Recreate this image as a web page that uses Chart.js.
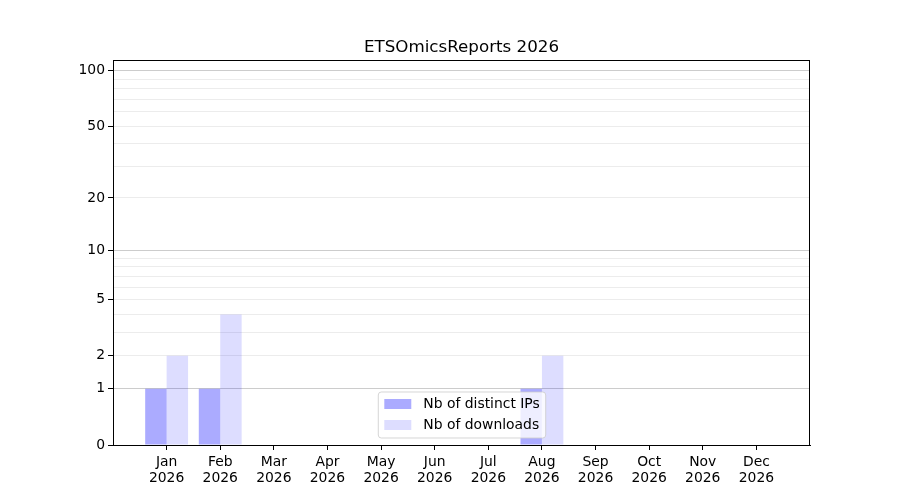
<!DOCTYPE html>
<html>
<head>
<meta charset="utf-8">
<script src="https://cdn.jsdelivr.net/npm/chart.js@4"></script>
<style>
  body { margin: 0; background: #fff; }
</style>
</head>
<body>
<canvas id="chart" width="900" height="500"></canvas>
<script>
// Data
const months = ['Jan', 'Feb', 'Mar', 'Apr', 'May', 'Jun', 'Jul', 'Aug', 'Sep', 'Oct', 'Nov', 'Dec'];
const year = '2026';
const distinctIPs = [1, 1, 0, 0, 0, 0, 0, 1, 0, 0, 0, 0];
const downloads = [2, 4, 0, 0, 0, 0, 0, 2, 0, 0, 0, 0];
const labelledTicks = [0, 1, 2, 5, 10, 20, 50, 100];
const majorGrid = [1, 10, 100];
const minorGrid = [2, 3, 4, 5, 6, 7, 8, 9, 20, 30, 40, 50, 60, 70, 80, 90];
const yMaxValue = 114; // top of axes in data units

// log(1 + x) transform used by the y axis
function tf(v) { return Math.log10(1 + v); }

// pad the category axis with an empty slot each side (matplotlib-like margins)
const labels = [''].concat(months.map(m => [m, year]), ['']);
const pad = arr => [null].concat(arr.map(v => tf(v)), [null]);

const FONT = 'DejaVu Sans';
const TICK_SIZE = 13.9;

const gridVals = [0].concat(majorGrid, minorGrid).sort((a, b) => a - b);

// Frame and in-axes legend
const framePlugin = {
  id: 'frame',
  afterDraw(chart) {
    const { ctx, chartArea: a } = chart;
    ctx.save();
    ctx.strokeStyle = '#000';
    ctx.lineWidth = 1;
    ctx.strokeRect(Math.round(a.left) + 0.5, Math.round(a.top) + 0.5,
      Math.round(a.right - a.left) - 1, Math.round(a.bottom - a.top));

    // legend
    const items = chart.data.datasets;
    ctx.font = TICK_SIZE + 'px "' + FONT + '"';
    let tw = 0;
    items.forEach(d => { tw = Math.max(tw, ctx.measureText(d.label).width); });
    const boxW = 45 + tw + 6;
    const boxH = 46;
    const cx = (a.left + a.right) / 2;
    const x0 = cx - boxW / 2 + 0.5;
    const y0 = a.bottom - 7 - boxH;
    ctx.fillStyle = 'rgba(255,255,255,0.8)';
    ctx.strokeStyle = 'rgba(204,204,204,0.8)';
    ctx.beginPath();
    ctx.roundRect(x0, y0, boxW, boxH, 3);
    ctx.fill();
    ctx.stroke();
    items.forEach((d, i) => {
      const ry = y0 + 12 + i * 21;
      ctx.fillStyle = d.backgroundColor;
      ctx.fillRect(x0 + 6, ry - 5, 27, 10);
      ctx.fillStyle = '#000';
      ctx.textBaseline = 'middle';
      ctx.textAlign = 'left';
      ctx.fillText(d.label, x0 + 45, ry);
    });
    ctx.restore();
  }
};

new Chart(document.getElementById('chart'), {
  type: 'bar',
  data: {
    labels: labels,
    datasets: [
      {
        label: 'Nb of distinct IPs',
        data: pad(distinctIPs),
        backgroundColor: 'rgba(0,0,255,0.33)',
        borderWidth: 0
      },
      {
        label: 'Nb of downloads',
        data: pad(downloads),
        backgroundColor: 'rgba(0,0,255,0.135)',
        borderWidth: 0
      }
    ]
  },
  options: {
    responsive: false,
    animation: false,
    devicePixelRatio: 1,
    // left padding + empty right axis keep the title centred over the axes
    layout: { padding: { left: 23, right: 0, top: 0, bottom: 0 } },
    datasets: {
      bar: { categoryPercentage: 0.8, barPercentage: 1.0 }
    },
    plugins: {
      legend: { display: false },
      tooltip: { enabled: false },
      title: {
        display: true,
        text: 'ETSOmicsReports 2026',
        color: '#000',
        font: { family: FONT, size: 16.7, weight: 'normal' },
        padding: { top: 38, bottom: 2 }
      }
    },
    scales: {
      x: {
        offset: false,
        grid: {
          offset: false,
          drawOnChartArea: false,
          drawTicks: true,
          tickLength: 5,
          tickWidth: 1,
          tickColor: ctx => (ctx.index === 0 || ctx.index === labels.length - 1) ? 'rgba(0,0,0,0)' : '#000'
        },
        border: { display: true, color: '#000', width: 1 },
        ticks: {
          autoSkip: false,
          maxRotation: 0,
          padding: 4,
          color: '#000',
          font: { family: FONT, size: TICK_SIZE, lineHeight: 1.15 }
        },
        afterFit(scale) { scale.height = 55; }
      },
      y: {
        min: 0,
        max: tf(yMaxValue),
        afterBuildTicks(scale) {
          scale.ticks = gridVals.map(v => ({ value: tf(v), raw: v }));
        },
        grid: {
          drawTicks: true,
          tickLength: 5,
          color: ctx => {
            const v = gridVals[ctx.index];
            if (v === 0) return 'rgba(0,0,0,0)';
            return majorGrid.includes(v) ? '#cccccc' : '#ececec';
          },
          tickColor: ctx => labelledTicks.includes(gridVals[ctx.index]) ? '#000' : 'rgba(0,0,0,0)'
        },
        border: { display: true, color: '#000', width: 1 },
        ticks: {
          autoSkip: false,
          padding: 3,
          color: '#000',
          font: { family: FONT, size: TICK_SIZE },
          callback: (value, index) => {
            const v = gridVals[index];
            return labelledTicks.includes(v) ? String(v) : '';
          }
        },
        afterFit(scale) { scale.width = 90; }
      },
      yRight: {
        position: 'right',
        display: true,
        grid: { display: false, drawTicks: false },
        border: { display: false },
        ticks: { display: false },
        afterFit(scale) { scale.width = 90; }
      }
    }
  },
  plugins: [framePlugin]
});
</script>
</body>
</html>
